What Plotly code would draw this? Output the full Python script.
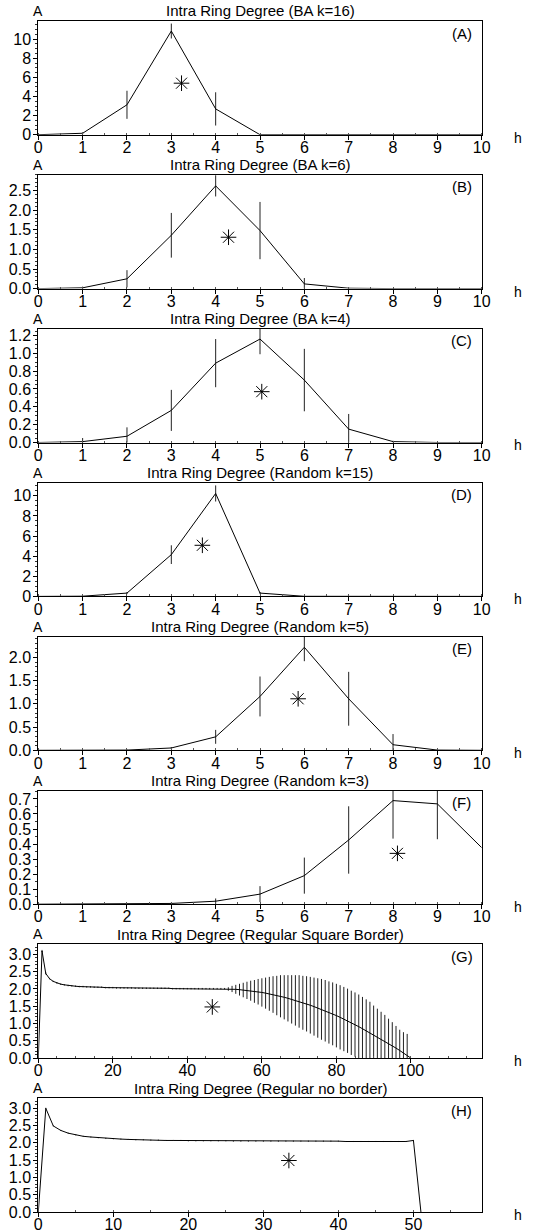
import plotly.graph_objects as go

W, H = 534, 1232
FONT = "Liberation Sans, Arial, sans-serif"

titles = ["Intra Ring Degree (BA k=16)", "Intra Ring Degree (BA k=6)", "Intra Ring Degree (BA k=4)",
          "Intra Ring Degree (Random k=15)", "Intra Ring Degree (Random k=5)", "Intra Ring Degree (Random k=3)",
          "Intra Ring Degree (Regular Square Border)", "Intra Ring Degree (Regular no border)"]
tags = ["(A)", "(B)", "(C)", "(D)", "(E)", "(F)", "(G)", "(H)"]

h_small = [0, 1, 2, 3, 4, 5, 6, 7, 8, 9, 10]

a_y = [0, 0.15, 3.13, 10.85, 2.70, 0, 0, 0, 0, 0, 0]
a_err = [0, 0.1, 1.47, 0.78, 1.74, 0, 0, 0, 0, 0, 0]
b_y = [0, 0.02, 0.25, 1.36, 2.62, 1.48, 0.12, 0.01, 0, 0, 0]
b_err = [0, 0.03, 0.22, 0.57, 0.27, 0.73, 0.15, 0.01, 0, 0, 0]
c_y = [0, 0.01, 0.07, 0.36, 0.89, 1.16, 0.70, 0.15, 0.01, 0, 0]
c_err = [0, 0.04, 0.10, 0.23, 0.27, 0.17, 0.35, 0.17, 0.01, 0, 0]
d_y = [0, 0.02, 0.33, 4.15, 10.23, 0.33, 0.01, 0, 0, 0, 0]
d_err = [0, 0.02, 0.1, 0.93, 0.8, 0.1, 0.02, 0, 0, 0, 0]
e_y = [0, 0, 0.005, 0.05, 0.29, 1.16, 2.22, 1.11, 0.12, 0.005, 0]
e_err = [0, 0, 0.01, 0.02, 0.15, 0.43, 0.30, 0.58, 0.23, 0.01, 0]
f_y = [0, 0, 0.001, 0.005, 0.02, 0.067, 0.19, 0.427, 0.689, 0.667, 0.376]
f_err = [0, 0, 0, 0.005, 0.018, 0.053, 0.12, 0.224, 0.253, 0.235, 0]

g_h = list(range(0, 101))
g_y = [0, 3.10, 2.45, 2.30, 2.22, 2.17, 2.14, 2.12, 2.10, 2.09, 2.08,
       2.07, 2.07, 2.06, 2.06, 2.05, 2.05, 2.05, 2.04, 2.04, 2.04,
       2.03, 2.03, 2.03, 2.03, 2.03, 2.02, 2.02, 2.02, 2.02, 2.02,
       2.02, 2.02, 2.02, 2.02, 2.02, 2.01, 2.01, 2.01, 2.01, 2.01,
       2.01, 2.01, 2.01, 2.01, 2.01, 2.01, 2.01, 2.01, 2.01, 2.01,
       2.00, 2.00, 1.99, 1.98, 1.97, 1.96, 1.95, 1.93, 1.92, 1.90,
       1.88, 1.86, 1.84, 1.81, 1.79, 1.76, 1.73, 1.70, 1.67, 1.64,
       1.60, 1.57, 1.53, 1.49, 1.45, 1.41, 1.37, 1.32, 1.28, 1.23,
       1.18, 1.13, 1.08, 1.02, 0.97, 0.91, 0.85, 0.79, 0.73, 0.67,
       0.61, 0.55, 0.49, 0.42, 0.36, 0.29, 0.22, 0.15, 0.08, 0.00]
g_err = [0, 0.03, 0.03, 0.02, 0.02, 0.02, 0.02, 0.02, 0.02, 0.02, 0.02,
         0.02, 0.02, 0.02, 0.02, 0.02, 0.02, 0.02, 0.02, 0.02, 0.02,
         0.02, 0.02, 0.02, 0.02, 0.02, 0.02, 0.02, 0.02, 0.02, 0.02,
         0.02, 0.02, 0.02, 0.02, 0.02, 0.02, 0.02, 0.02, 0.02, 0.02,
         0.02, 0.02, 0.02, 0.02, 0.02, 0.02, 0.02, 0.02, 0.02, 0.02,
         0.05, 0.09, 0.13, 0.17, 0.21, 0.25, 0.29, 0.33, 0.37, 0.41,
         0.45, 0.49, 0.53, 0.57, 0.61, 0.64, 0.67, 0.70, 0.73, 0.76,
         0.78, 0.80, 0.82, 0.84, 0.86, 0.88, 0.89, 0.90, 0.91, 0.92,
         0.93, 0.93, 0.93, 0.93, 0.93, 0.93, 0.92, 0.91, 0.90, 0.85,
         0.82, 0.79, 0.76, 0.72, 0.68, 0.64, 0.60, 0.60, 0.62, 0]

hh_h = list(range(0, 52))
hh_y = [0, 3.00, 2.49, 2.36, 2.28, 2.23, 2.19, 2.17, 2.15, 2.13, 2.12,
        2.11, 2.10, 2.09, 2.09, 2.08, 2.08, 2.07, 2.07, 2.07, 2.06,
        2.06, 2.06, 2.06, 2.06, 2.06, 2.05, 2.05, 2.05, 2.05, 2.05,
        2.05, 2.05, 2.05, 2.05, 2.05, 2.05, 2.05, 2.05, 2.05, 2.05,
        2.04, 2.04, 2.04, 2.04, 2.04, 2.04, 2.04, 2.04, 2.04, 2.07, 0]
hh_err = [0] + [0.015] * 50 + [0]

star_h = [3.23, 4.29, 5.04, 3.7, 5.86, 8.1, 46.7, 33.4]
star_a = [5.39, 1.31, 0.57, 5.08, 1.11, 0.338, 1.48, 1.49]

panels = [
    (h_small, a_y, a_err, [0, 11.9], 2, None, [0, 10], 1),
    (h_small, b_y, b_err, [0, 2.9], 0.5, ".1f", [0, 10], 1),
    (h_small, c_y, c_err, [0, 1.275], 0.2, ".1f", [0, 10], 1),
    (h_small, d_y, d_err, [0, 11.3], 2, None, [0, 10], 1),
    (h_small, e_y, e_err, [0, 2.45], 0.5, ".1f", [0, 10], 1),
    (h_small, f_y, f_err, [0, 0.756], 0.1, ".1f", [0, 10], 1),
    (g_h, g_y, g_err, [0, 3.29], 0.5, ".1f", [0, 119], 20),
    (hh_h, hh_y, hh_err, [0, 3.29], 0.5, ".1f", [0, 59.1], 10),
]

fig = go.Figure()
x0, x1 = 38.3 / W, 481.7 / W
annotations = []
for i, (xs, ys, errs, yr, ydt, yfmt, xr, xdt) in enumerate(panels):
    top = 21 + 153.9 * i
    bot = top + 113.7
    sfx = "" if i == 0 else str(i + 1)
    xa, ya = "x" + sfx, "y" + sfx
    fig.add_trace(go.Scatter(
        x=xs, y=ys, mode="lines", xaxis=xa, yaxis=ya,
        line=dict(color="black", width=1),
        error_y=dict(type="data", array=errs, visible=True, width=0, thickness=1, color="#222"),
        showlegend=False, hoverinfo="skip"))
    fig.add_trace(go.Scatter(
        x=[star_h[i]], y=[star_a[i]], mode="markers", xaxis=xa, yaxis=ya,
        marker=dict(symbol="asterisk-open", size=13, color="black", line=dict(color="black", width=1)),
        showlegend=False, hoverinfo="skip"))
    xminor = 2 if xdt == 1 else 4
    yminor = 2 if ydt == 0.1 else 5
    fig.layout["xaxis" + sfx] = dict(
        domain=[x0, x1], anchor=ya, range=xr, dtick=xdt, tick0=0, automargin=False,
        showgrid=False, zeroline=False, showline=True, linecolor="black", linewidth=1,
        mirror=True, ticks="outside", ticklen=4, tickcolor="black", tickwidth=1,
        ticklabelstandoff=-6,
        tickfont=dict(family=FONT, size=16, color="black"),
        minor=dict(ticks="inside", ticklen=2, nticks=xminor, tickcolor="#555", showgrid=False))
    fig.layout["yaxis" + sfx] = dict(
        domain=[1 - bot / H, 1 - top / H], anchor=xa, range=yr, dtick=ydt, tick0=0,
        tickformat=yfmt, automargin=False,
        showgrid=False, zeroline=False, showline=True, linecolor="black", linewidth=1,
        mirror=True, ticks="outside", ticklen=4, tickcolor="black", tickwidth=1,
        ticklabelstandoff=-1,
        tickfont=dict(family=FONT, size=16, color="black"),
        minor=dict(ticks="outside", ticklen=2.5, nticks=yminor, tickcolor="#333", showgrid=False))
    annotations.append(dict(text=titles[i], x=260 / W, y=1 - (top - 10) / H, xref="paper", yref="paper",
                            xanchor="center", yanchor="middle", showarrow=False,
                            font=dict(family=FONT, size=15, color="black")))
    annotations.append(dict(text="A", x=38.3 / W, y=1 - (top - 10) / H, xref="paper", yref="paper",
                            xanchor="center", yanchor="middle", showarrow=False,
                            font=dict(family=FONT, size=14, color="black")))
    annotations.append(dict(text="h", x=518 / W, y=1 - (bot + 3) / H, xref="paper", yref="paper",
                            xanchor="center", yanchor="middle", showarrow=False,
                            font=dict(family=FONT, size=14, color="black")))
    annotations.append(dict(text=tags[i], x=461.7 / W, y=1 - (top + 12) / H, xref="paper", yref="paper",
                            xanchor="center", yanchor="middle", showarrow=False,
                            font=dict(family=FONT, size=15, color="black")))

fig.update_layout(width=W, height=H, margin=dict(l=0, r=0, t=0, b=0),
                  paper_bgcolor="white", plot_bgcolor="white", annotations=annotations)
fig.write_html("out.html", config={"displayModeBar": False, "staticPlot": True},
               post_script="document.body.style.margin='0';document.body.style.padding='0';"
                           "document.body.style.overflow='hidden';")
